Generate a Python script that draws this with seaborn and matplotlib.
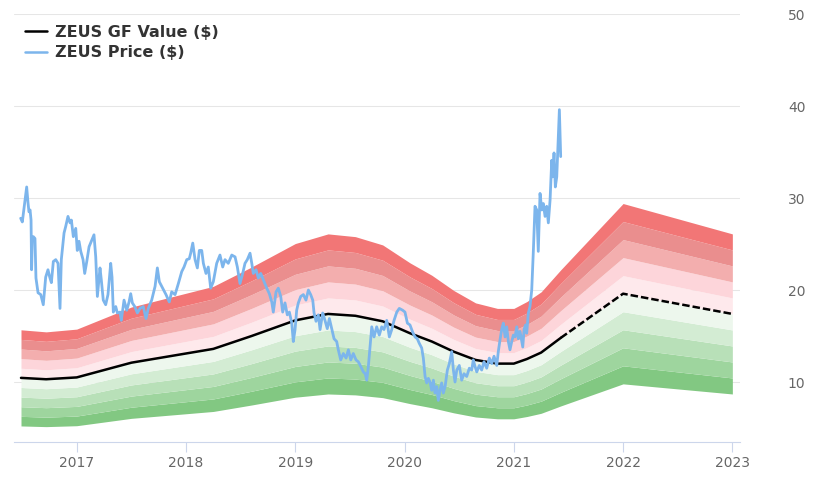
import matplotlib
matplotlib.use("Agg")
import matplotlib.pyplot as plt
import seaborn as sns
import pandas as pd
import numpy as np
from matplotlib.lines import Line2D

# ---------------- data ----------------
gf_dates = [2016.49, 2016.72, 2017.0, 2017.5, 2018.0, 2018.25, 2018.6, 2019.0, 2019.3,
            2019.55, 2019.8, 2020.05, 2020.25, 2020.45, 2020.65, 2020.85, 2021.0,
            2021.12, 2021.25, 2021.43, 2022.0, 2023.0]
gf_values = [10.45, 10.3, 10.5, 12.1, 13.1, 13.6, 15.0, 16.7, 17.4,
             17.2, 16.6, 15.3, 14.4, 13.3, 12.4, 12.0, 12.0,
             12.5, 13.2, 14.8, 19.6, 17.4]
gf_last_actual = 2021.43

price_dates = [
    2016.487, 2016.502, 2016.518, 2016.542, 2016.554, 2016.563, 2016.573, 2016.582, 2016.587,
    2016.594, 2016.603, 2016.618, 2016.627, 2016.646, 2016.671, 2016.694, 2016.716, 2016.737,
    2016.753, 2016.768, 2016.786, 2016.808, 2016.829, 2016.847, 2016.859, 2016.884, 2016.899,
    2016.920, 2016.939, 2016.951, 2016.969, 2016.991, 2017.005, 2017.021, 2017.037, 2017.058,
    2017.073, 2017.092, 2017.113, 2017.134, 2017.158, 2017.174, 2017.189, 2017.213, 2017.225,
    2017.243, 2017.265, 2017.286, 2017.311, 2017.323, 2017.335, 2017.357, 2017.372, 2017.396,
    2017.408, 2017.433, 2017.458, 2017.479, 2017.494, 2017.509, 2017.531, 2017.555, 2017.579,
    2017.609, 2017.634, 2017.655, 2017.686, 2017.717, 2017.738, 2017.756, 2017.787, 2017.817,
    2017.847, 2017.869, 2017.900, 2017.930, 2017.961, 2017.982, 2018.007, 2018.030, 2018.043,
    2018.062, 2018.083, 2018.104, 2018.122, 2018.144, 2018.159, 2018.183, 2018.204, 2018.226,
    2018.250, 2018.281, 2018.311, 2018.336, 2018.357, 2018.387, 2018.419, 2018.449, 2018.470,
    2018.494, 2018.519, 2018.540, 2018.561, 2018.586, 2018.602, 2018.616, 2018.641, 2018.662,
    2018.684, 2018.708, 2018.739, 2018.763, 2018.785, 2018.799, 2018.824, 2018.845, 2018.867,
    2018.885, 2018.906, 2018.927, 2018.946, 2018.968, 2018.982, 2018.998, 2019.013, 2019.028,
    2019.050, 2019.074, 2019.098, 2019.120, 2019.141, 2019.160, 2019.172, 2019.190, 2019.211,
    2019.227, 2019.251, 2019.272, 2019.293, 2019.312, 2019.334, 2019.355, 2019.379, 2019.394,
    2019.416, 2019.440, 2019.465, 2019.486, 2019.508, 2019.531, 2019.556, 2019.577, 2019.599,
    2019.623, 2019.641, 2019.654, 2019.669, 2019.684, 2019.700, 2019.721, 2019.745, 2019.769,
    2019.791, 2019.812, 2019.837, 2019.861, 2019.883, 2019.904, 2019.929, 2019.952, 2019.983,
    2020.004, 2020.026, 2020.050, 2020.075, 2020.096, 2020.117, 2020.135, 2020.157, 2020.172,
    2020.188, 2020.203, 2020.218, 2020.233, 2020.249, 2020.264, 2020.279, 2020.295, 2020.309,
    2020.325, 2020.340, 2020.355, 2020.371, 2020.392, 2020.410, 2020.432, 2020.447, 2020.462,
    2020.478, 2020.501, 2020.523, 2020.544, 2020.569, 2020.593, 2020.615, 2020.629, 2020.645,
    2020.661, 2020.684, 2020.706, 2020.727, 2020.752, 2020.776, 2020.798, 2020.819, 2020.844,
    2020.858, 2020.874, 2020.889, 2020.904, 2020.920, 2020.935, 2020.950, 2020.965, 2020.981,
    2020.996, 2021.011, 2021.027, 2021.041, 2021.057, 2021.073, 2021.082, 2021.094, 2021.107,
    2021.118, 2021.133, 2021.148, 2021.164, 2021.179, 2021.194, 2021.210, 2021.224, 2021.240,
    2021.256, 2021.270, 2021.286, 2021.301, 2021.316, 2021.332, 2021.347, 2021.356, 2021.368,
    2021.380, 2021.393, 2021.407, 2021.417, 2021.429]
price_values = [
    27.8, 27.4, 28.9, 31.2, 29.5, 28.5, 28.7, 27.6, 22.2,
    25.6, 25.8, 25.6, 21.3, 19.7, 19.5, 18.4, 21.4, 22.2,
    21.4, 20.8, 23.1, 23.3, 22.9, 18.0, 23.3, 26.2, 26.9,
    28.0, 27.3, 27.6, 25.8, 26.7, 24.3, 25.3, 24.2, 23.3,
    21.8, 23.1, 24.7, 25.3, 26.0, 23.6, 19.3, 22.4, 21.1,
    18.9, 18.4, 19.5, 22.9, 21.4, 17.6, 18.2, 17.5, 17.6,
    16.7, 18.9, 17.8, 18.7, 19.6, 18.6, 18.2, 17.5, 18.0,
    18.2, 16.9, 18.0, 18.9, 20.4, 22.4, 20.9, 20.2, 19.5,
    18.7, 19.8, 19.5, 20.7, 22.0, 22.5, 23.3, 23.4, 24.0,
    25.1, 23.3, 22.4, 24.3, 24.3, 22.9, 21.8, 22.5, 20.2,
    20.9, 22.9, 23.8, 22.5, 23.3, 22.9, 23.8, 23.6, 22.5,
    20.7, 21.8, 22.9, 23.3, 24.0, 22.9, 21.8, 22.2, 21.3,
    21.8, 21.1, 20.2, 19.6, 18.7, 17.6, 19.8, 20.2, 19.3,
    17.6, 18.6, 17.3, 17.6, 16.4, 14.4, 15.7, 17.8, 18.6,
    19.3, 19.5, 18.9, 20.0, 19.5, 18.9, 17.5, 16.6, 17.3,
    15.7, 17.5, 16.7, 15.8, 16.9, 15.8, 14.7, 14.4, 13.5,
    12.4, 13.1, 12.6, 13.5, 12.4, 13.1, 12.4, 12.2, 11.7,
    11.1, 10.9, 10.2, 11.7, 13.8, 16.0, 14.9, 16.0, 15.1,
    16.0, 15.7, 16.7, 14.9, 15.7, 16.7, 17.6, 18.0, 17.8,
    17.6, 16.4, 16.2, 15.4, 14.9, 14.7, 14.2, 13.7, 12.6,
    10.6, 9.9, 10.4, 10.0, 9.1, 10.2, 8.8, 9.5, 8.0,
    9.1, 9.9, 8.8, 9.5, 11.3, 12.0, 13.3, 11.3, 10.0,
    11.3, 11.8, 10.2, 10.9, 10.6, 11.5, 11.3, 12.4, 11.7,
    11.1, 11.8, 11.3, 12.2, 11.5, 12.6, 12.0, 12.8, 11.8,
    13.3, 14.6, 15.7, 16.4, 14.9, 16.0, 14.4, 13.5, 14.4,
    15.1, 14.9, 16.0, 14.7, 15.5, 14.4, 13.8, 15.7, 16.2,
    15.3, 17.5, 18.2, 20.0, 24.3, 29.1, 28.7, 24.2, 30.5,
    28.7, 29.4, 28.0, 29.1, 27.3, 29.8, 34.1, 32.3, 34.9,
    31.2, 32.3, 36.7, 39.6, 34.5]

band_factors = [0.5, 0.6, 0.7, 0.8, 0.9, 1.0, 1.1, 1.2, 1.3, 1.4, 1.5]
band_colors = ['#82c882', '#9ed59e', '#b8e0b8', '#d3ecd3', '#edf7ed',
               '#fee9ec', '#fdd5da', '#f3aeae', '#ea8e8e', '#f27676']

year_ticks = [2017, 2018, 2019, 2020, 2021, 2022, 2023]
y_ticks = [10, 20, 30, 40, 50]

legend_labels = ['ZEUS GF Value ($)', 'ZEUS Price ($)']

# ---------------- figure ----------------
sns.set_theme(style="white")
plt.rcParams['font.family'] = ['DejaVu Sans']

fig = plt.figure(figsize=(8.2, 4.92), dpi=100)
ax = fig.add_axes([14/820, 1-442/492, (740-14)/820, (442-14)/492])

gf = pd.DataFrame({'date': gf_dates, 'value': gf_values})
gfx = np.array(gf_dates)
gfy = np.array(gf_values)

for i in range(len(band_factors) - 1):
    ax.fill_between(gfx, gfy * band_factors[i], gfy * band_factors[i + 1],
                    color=band_colors[i], linewidth=0, zorder=1)

solid = gf[gf['date'] <= gf_last_actual]
dashed = gf[gf['date'] >= gf_last_actual]
sns.lineplot(data=solid, x='date', y='value', color='black', linewidth=1.8,
             ax=ax, zorder=3, estimator=None, sort=False)
sns.lineplot(data=dashed, x='date', y='value', color='black', linewidth=1.8,
             ax=ax, zorder=3, estimator=None, sort=False, linestyle=(0, (3, 1.2)))

price = pd.DataFrame({'date': price_dates, 'value': price_values})
sns.lineplot(data=price, x='date', y='value', color='#7cb5ec', linewidth=2.0,
             ax=ax, zorder=4, estimator=None, sort=False)

ax.set_xlim(2016.426, 2023.07)
ax.set_ylim(3.48, 50)
ax.set_xticks(year_ticks)
ax.set_xticklabels([str(y) for y in year_ticks])
ax.set_yticks(y_ticks)
ax.set_yticklabels([str(v) for v in y_ticks])
ax.yaxis.tick_right()
ax.set_xlabel('')
ax.set_ylabel('')

ax.grid(axis='y', color='#e6e6e6', linewidth=0.75, zorder=0)
ax.grid(axis='x', visible=False)
ax.set_axisbelow(True)
for s in ['top', 'left', 'right']:
    ax.spines[s].set_visible(False)
ax.spines['bottom'].set_color('#ccd6eb')
ax.spines['bottom'].set_linewidth(0.8)

ax.tick_params(axis='x', length=7.2, width=0.8, color='#ccd6eb', labelcolor='#666666',
               labelsize=10, pad=3, bottom=True)
ax.tick_params(axis='y', length=0, labelcolor='#666666', labelsize=10, pad=34.5,
               right=True, left=False)

handles = [Line2D([0], [0], color='black', linewidth=1.8),
           Line2D([0], [0], color='#7cb5ec', linewidth=1.8)]
leg = fig.legend(handles, legend_labels, loc='upper left',
                 bbox_to_anchor=(25/820, 1-25/492), bbox_transform=fig.transFigure,
                 frameon=False, borderpad=0, borderaxespad=0, handlelength=1.4,
                 handletextpad=0.45, labelspacing=0.32,
                 prop={'weight': 'bold', 'size': 11.5})
for t in leg.get_texts():
    t.set_color('#333333')

fig.savefig('out.png', dpi=100)
